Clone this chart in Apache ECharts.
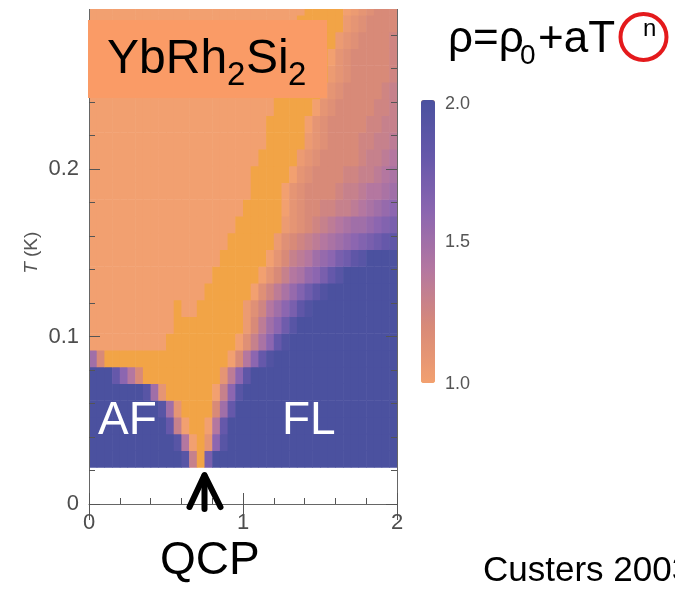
<!DOCTYPE html>
<html><head><meta charset="utf-8">
<script src="https://cdn.jsdelivr.net/npm/echarts@6/dist/echarts.min.js"></script>
<style>html,body{margin:0;padding:0;background:#fff}#c{width:675px;height:589px}</style>
</head><body><div id="c"></div>
<script>
// Field B (T) cell centres
const fieldB = [0.025,0.075,0.125,0.175,0.225,0.275,0.325,0.375,0.425,0.475,0.525,0.575,0.625,0.675,0.725,0.775,0.825,0.875,0.925,0.975,1.025,1.075,1.125,1.175,1.225,1.275,1.325,1.375,1.425,1.475,1.525,1.575,1.625,1.675,1.725,1.775,1.825,1.875,1.925,1.975];
// Temperature T (K) cell centres
const tempT = [0.027,0.037,0.047,0.057,0.067,0.077,0.087,0.097,0.107,0.117,0.127,0.137,0.147,0.157,0.167,0.177,0.187,0.197,0.207,0.217,0.227,0.237,0.247,0.257,0.267,0.277,0.287,0.297];
const cellB = 0.05, cellT = 0.01;
// exponent n, one row per temperature (bottom to top)
const nRows = [
[2,2,2,2,2,2,2,2,2,2,2,2,1.9,1.3,0.9,1.7,2,2,2,2,2,2,2,2,2,2,2,2,2,2,2,2,2,2,2,2,2,2,2,2],
[2,2,2,2,2,2,2,2,2,2,2,1.9,1.4,1.0,0.9,1.1,1.6,1.9,2,2,2,2,2,2,2,2,2,2,2,2,2,2,2,2,2,2,2,2,2,2],
[2,2,2,2,2,2,2,2,2,2,1.8,1.3,1.0,0.9,0.9,1.0,1.4,1.8,2,2,2,2,2,2,2,2,2,2,2,2,2,2,2,2,2,2,2,2,2,2],
[2,2,2,2,2,2,2,2,2,1.9,1.5,1.1,0.9,0.9,0.9,0.95,1.2,1.5,1.8,2,2,2,2,2,2,2,2,2,2,2,2,2,2,2,2,2,2,2,2,2],
[2,2,2,2,2,2,2,1.9,1.5,1.1,0.95,0.9,0.9,0.9,0.9,0.9,1.0,1.3,1.6,1.9,2,2,2,2,2,2,2,2,2,2,2,2,2,2,2,2,2,2,2,2],
[2,2,2,1.8,1.6,1.4,1.2,0.9,0.9,0.9,0.9,0.9,0.9,0.9,0.9,0.9,0.95,1.1,1.35,1.6,1.85,2,2,2,2,2,2,2,2,2,2,2,2,2,2,2,2,2,2,2],
[1.5,1.2,0.95,0.9,0.9,0.9,0.9,0.9,0.9,0.9,0.9,0.9,0.9,0.9,0.9,0.9,0.9,0.9,1.0,1.2,1.4,1.6,1.8,1.95,2,2,2,2,2,2,2,2,2,2,2,2,2,2,2,2],
[1.0,1.0,1.0,1.0,1.0,1.0,1.0,1.0,1.0,1.0,0.95,0.9,0.9,0.9,0.9,0.9,0.9,0.9,0.9,1.0,1.15,1.3,1.45,1.6,1.8,1.95,2,2,2,2,2,2,2,2,2,2,2,2,2,2],
[1.0,1.0,1.0,1.0,1.0,1.0,1.0,1.0,1.0,1.0,1.0,0.9,0.95,0.95,0.9,0.9,0.9,0.9,0.9,0.9,1.05,1.2,1.35,1.5,1.6,1.75,1.9,2,2,2,2,2,2,2,2,2,2,2,2,2],
[1.0,1.0,1.0,1.0,1.0,1.0,1.0,1.0,1.0,1.0,1.0,0.9,1.0,1.0,0.95,0.9,0.9,0.9,0.9,0.9,1.05,1.15,1.25,1.4,1.5,1.6,1.7,1.85,1.95,2,2,2,2,2,2,2,2,2,2,2],
[1.0,1.0,1.0,1.0,1.0,1.0,1.0,1.0,1.0,1.0,1.0,1.0,1.0,1.0,1.0,0.95,0.9,0.9,0.9,0.9,0.9,1.0,1.15,1.25,1.35,1.45,1.55,1.65,1.75,1.85,1.95,2,2,2,2,2,2,2,2,2],
[1.0,1.0,1.0,1.0,1.0,1.0,1.0,1.0,1.0,1.0,1.0,1.0,1.0,1.0,1.0,1.0,0.95,0.9,0.9,0.9,0.9,0.9,1.0,1.1,1.2,1.3,1.4,1.45,1.55,1.6,1.7,1.8,1.9,2,2,2,2,2,2,2],
[1.0,1.0,1.0,1.0,1.0,1.0,1.0,1.0,1.0,1.0,1.0,1.0,1.0,1.0,1.0,1.0,1.0,0.95,0.9,0.9,0.9,0.9,0.9,1.0,1.1,1.2,1.3,1.35,1.4,1.5,1.55,1.6,1.7,1.75,1.85,1.9,2,2,2,2],
[1.0,1.0,1.0,1.0,1.0,1.0,1.0,1.0,1.0,1.0,1.0,1.0,1.0,1.0,1.0,1.0,1.0,1.0,0.95,0.9,0.9,0.9,0.9,0.95,1.05,1.15,1.2,1.25,1.3,1.35,1.4,1.45,1.5,1.55,1.6,1.65,1.7,1.75,1.8,1.85],
[1.0,1.0,1.0,1.0,1.0,1.0,1.0,1.0,1.0,1.0,1.0,1.0,1.0,1.0,1.0,1.0,1.0,1.0,1.0,0.95,0.9,0.9,0.9,0.9,0.95,1.05,1.1,1.15,1.2,1.25,1.3,1.35,1.4,1.45,1.5,1.5,1.55,1.6,1.65,1.7],
[1.0,1.0,1.0,1.0,1.0,1.0,1.0,1.0,1.0,1.0,1.0,1.0,1.0,1.0,1.0,1.0,1.0,1.0,1.0,1.0,0.95,0.9,0.9,0.9,0.9,1.0,1.1,1.15,1.2,1.2,1.25,1.25,1.3,1.3,1.35,1.4,1.45,1.5,1.55,1.6],
[1.0,1.0,1.0,1.0,1.0,1.0,1.0,1.0,1.0,1.0,1.0,1.0,1.0,1.0,1.0,1.0,1.0,1.0,1.0,1.0,1.0,0.9,0.9,0.9,0.9,1.0,1.1,1.15,1.2,1.2,1.2,1.2,1.25,1.3,1.3,1.35,1.4,1.4,1.45,1.5],
[1.0,1.0,1.0,1.0,1.0,1.0,1.0,1.0,1.0,1.0,1.0,1.0,1.0,1.0,1.0,1.0,1.0,1.0,1.0,1.0,1.0,0.95,0.9,0.9,0.9,0.9,1.0,1.1,1.15,1.2,1.2,1.2,1.2,1.25,1.25,1.3,1.3,1.35,1.4,1.45],
[1.0,1.0,1.0,1.0,1.0,1.0,1.0,1.0,1.0,1.0,1.0,1.0,1.0,1.0,1.0,1.0,1.0,1.0,1.0,1.0,1.0,1.0,0.95,0.9,0.9,0.9,0.95,1.05,1.1,1.15,1.2,1.2,1.2,1.2,1.2,1.25,1.3,1.3,1.35,1.4],
[1.0,1.0,1.0,1.0,1.0,1.0,1.0,1.0,1.0,1.0,1.0,1.0,1.0,1.0,1.0,1.0,1.0,1.0,1.0,1.0,1.0,1.0,1.0,0.95,0.9,0.9,0.9,0.95,1.05,1.1,1.15,1.2,1.2,1.2,1.2,1.25,1.25,1.3,1.3,1.35],
[1.0,1.0,1.0,1.0,1.0,1.0,1.0,1.0,1.0,1.0,1.0,1.0,1.0,1.0,1.0,1.0,1.0,1.0,1.0,1.0,1.0,1.0,1.0,0.95,0.9,0.9,0.9,0.9,1.0,1.1,1.15,1.2,1.2,1.2,1.2,1.2,1.25,1.25,1.3,1.3],
[1.0,1.0,1.0,1.0,1.0,1.0,1.0,1.0,1.0,1.0,1.0,1.0,1.0,1.0,1.0,1.0,1.0,1.0,1.0,1.0,1.0,1.0,1.0,1.0,0.95,0.9,0.9,0.9,0.9,1.0,1.1,1.15,1.2,1.2,1.2,1.2,1.2,1.25,1.25,1.3],
[1.0,1.0,1.0,1.0,1.0,1.0,1.0,1.0,1.0,1.0,1.0,1.0,1.0,1.0,1.0,1.0,1.0,1.0,1.0,1.0,1.0,1.0,1.0,1.0,0.95,0.9,0.9,0.9,0.9,0.95,1.05,1.1,1.15,1.2,1.2,1.2,1.2,1.2,1.25,1.3],
[1.0,1.0,1.0,1.0,1.0,1.0,1.0,1.0,1.0,1.0,1.0,1.0,1.0,1.0,1.0,1.0,1.0,1.0,1.0,1.0,1.0,1.0,1.0,1.0,1.0,0.95,0.9,0.9,0.9,0.9,0.95,1.05,1.1,1.15,1.2,1.2,1.2,1.2,1.2,1.25],
[1.0,1.0,1.0,1.0,1.0,1.0,1.0,1.0,1.0,1.0,1.0,1.0,1.0,1.0,1.0,1.0,1.0,1.0,1.0,1.0,1.0,1.0,1.0,1.0,1.0,1.0,0.95,0.9,0.9,0.9,0.9,1.0,1.1,1.15,1.2,1.2,1.2,1.2,1.2,1.25],
[1.0,1.0,1.0,1.0,1.0,1.0,1.0,1.0,1.0,1.0,1.0,1.0,1.0,1.0,1.0,1.0,1.0,1.0,1.0,1.0,1.0,1.0,1.0,1.0,1.0,1.0,0.95,0.9,0.9,0.9,0.9,0.95,1.05,1.1,1.15,1.2,1.2,1.2,1.2,1.25],
[1.0,1.0,1.0,1.0,1.0,1.0,1.0,1.0,1.0,1.0,1.0,1.0,1.0,1.0,1.0,1.0,1.0,1.0,1.0,1.0,1.0,1.0,1.0,1.0,1.0,1.0,1.0,0.95,0.9,0.9,0.9,0.9,0.95,1.05,1.1,1.15,1.2,1.2,1.2,1.2],
[1.0,1.0,1.0,1.0,1.0,1.0,1.0,1.0,1.0,1.0,1.0,1.0,1.0,1.0,1.0,1.0,1.0,1.0,1.0,1.0,1.0,1.0,1.0,1.0,1.0,1.0,1.0,1.0,0.95,0.9,0.9,0.9,0.9,1.0,1.05,1.1,1.15,1.2,1.2,1.2]
];
const nRange = [1.0, 2.0];
const barLabels = ['2.0', '1.5', '1.0'];
const qcpB = 0.75;

const cells = [];
tempT.forEach((t, i) => fieldB.forEach((b, j) => cells.push([b, t, nRows[i][j]])));

const FONT = "'Liberation Sans', Arial, Helvetica, sans-serif";
const chart = echarts.init(document.getElementById('c'), null, {renderer: 'canvas'});

function renderItem(params, api) {
  const c = api.coord([api.value(0), api.value(1)]);
  const s = api.size([cellB, cellT]);
  return {
    type: 'rect',
    shape: {x: c[0] - s[0] / 2, y: c[1] - s[1] / 2, width: s[0] + 0.6, height: s[1] + 0.6},
    style: {fill: api.visual('color')}
  };
}

const tickStyle = {color: '#555', width: 1};
const option = {
  animation: false,
  backgroundColor: '#fff',
  grid: {left: 89, right: 278, top: 1.5, bottom: 85, containLabel: false, outerBoundsMode: 'none'},
  xAxis: [
    {type: 'value', min: 0, max: 2, interval: 1, position: 'bottom', z: 5,
     axisLine: {show: true, onZero: false, lineStyle: {color: '#666', width: 1}},
     axisTick: {show: true, inside: true, length: 11, lineStyle: tickStyle},
     minorTick: {show: true, splitNumber: 5, length: 6, lineStyle: tickStyle},
     splitLine: {show: false},
     axisLabel: {fontSize: 22, color: '#4d4d4d', margin: 8, fontFamily: FONT}},
    {type: 'value', min: 0, max: 2, interval: 1, position: 'top', z: 5,
     axisLine: {show: false},
     axisTick: {show: true, inside: true, length: 16, lineStyle: tickStyle},
     splitLine: {show: false}, axisLabel: {show: false}}
  ],
  yAxis: [
    {type: 'value', min: 0, max: 0.3, interval: 0.1, position: 'left', z: 5,
     axisLine: {show: true, onZero: false, lineStyle: {color: '#666', width: 1}},
     axisTick: {show: true, inside: true, length: 11, lineStyle: tickStyle},
     minorTick: {show: true, splitNumber: 5, length: 6, lineStyle: tickStyle},
     splitLine: {show: false},
     axisLabel: {fontSize: 22, color: '#4d4d4d', margin: 10, fontFamily: FONT, showMaxLabel: false,
                 formatter: v => (v === 0 ? '0' : v.toFixed(1))},
     name: '{i|T} (K)', nameLocation: 'middle', nameGap: 48, nameRotate: 90,
     nameTextStyle: {fontSize: 19, color: '#555', fontFamily: FONT,
                     rich: {i: {fontStyle: 'italic', fontSize: 19, color: '#555', fontFamily: FONT}}}},
    {type: 'value', min: 0, max: 0.3, interval: 0.1, position: 'right', z: 5,
     axisLine: {show: true, onZero: false, lineStyle: {color: '#666', width: 1}},
     axisTick: {show: true, inside: true, length: 11, lineStyle: tickStyle},
     minorTick: {show: true, splitNumber: 5, length: 6, lineStyle: tickStyle},
     splitLine: {show: false}, axisLabel: {show: false}}
  ],
  visualMap: {
    type: 'continuous', min: nRange[0], max: nRange[1], dimension: 2, seriesIndex: 0,
    unboundedRange: false,
    calculable: false, left: 421, top: 100, itemWidth: 14, itemHeight: 283, padding: 0,
    inRange: {color: ['#f2a070', '#d88a78', '#b477a0', '#8c66b0', '#6558aa', '#4b519f']},
    outOfRange: {color: '#f2a446'}
  },
  series: [{
    type: 'custom', coordinateSystem: 'cartesian2d', xAxisIndex: 0, yAxisIndex: 0,
    clip: true, encode: {x: 0, y: 1}, data: cells, renderItem: renderItem, silent: true
  }]
};
chart.setOption(option);

const qx = chart.convertToPixel({xAxisIndex: 0}, qcpB);
const txt = (text, x, y, size, fill, extra) => Object.assign({
  type: 'text', z: 102, x: x, y: y,
  style: {text: text, fontSize: size, fontFamily: FONT, fill: fill, verticalAlign: 'middle', align: 'left'}
}, extra || {});

chart.setOption({
  graphic: [
    {type: 'rect', z: 100, shape: {x: 0, y: 0, width: 410, height: 9}, style: {fill: '#fff'}},
    {type: 'rect', z: 101, shape: {x: 88, y: 20, width: 239, height: 78}, style: {fill: '#fa9b66'}},
    txt('YbRh', 107, 59.5, 48, '#000'),
    txt('2', 227, 75.5, 33, '#000'),
    txt('Si', 246, 59.5, 48, '#000'),
    txt('2', 288, 75.5, 33, '#000'),
    txt('ρ=ρ', 448, 40, 44, '#000'),
    txt('0', 520, 56, 28, '#000'),
    txt('+aT', 538, 40, 44, '#000'),
    {type: 'circle', z: 102, shape: {cx: 643.5, cy: 37, r: 23}, style: {fill: 'none', stroke: '#e41a1c', lineWidth: 4}},
    txt('n', 643, 29.5, 24, '#000'),
    txt(barLabels[0], 445, 104, 18, '#555'),
    txt(barLabels[1], 445, 242, 18, '#555'),
    txt(barLabels[2], 445, 384, 18, '#555'),
    txt('AF', 98, 421, 46, '#fff'),
    txt('FL', 282, 421, 46, '#fff'),
    txt('QCP', 160, 561, 46, '#000'),
    txt('Custers 2003', 483, 571, 35, '#000'),
    {type: 'polyline', z: 103, shape: {points: [[qx - 15, 507], [qx, 475], [qx + 16, 507]]},
     style: {stroke: '#000', lineWidth: 6, lineCap: 'round', lineJoin: 'round', fill: 'none'}},
    {type: 'line', z: 103, shape: {x1: qx, y1: 476, x2: qx, y2: 509},
     style: {stroke: '#000', lineWidth: 6, lineCap: 'round'}}
  ]
});
</script></body></html>
